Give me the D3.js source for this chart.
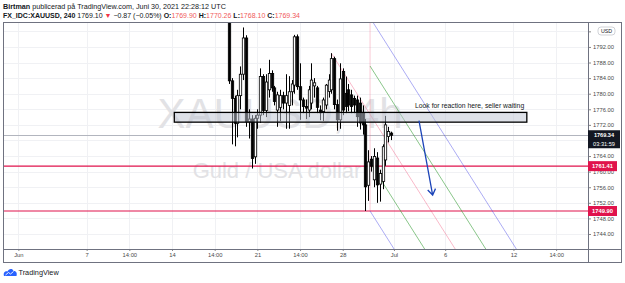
<!DOCTYPE html>
<html>
<head>
<meta charset="utf-8">
<script src="https://cdn.jsdelivr.net/npm/d3@7"></script>
<style>
  body { margin: 0; background: #fff; }
  svg { display: block; font-family: "Liberation Sans", Arial, sans-serif; }
</style>
</head>
<body>
<svg id="chart" width="625" height="283"></svg>
<script>
// 4h candles, FX_IDC:XAUUSD, Jun 17 - Jun 30 2021 (bar index 0..57)
const opens  = [1806, 1783.3, 1778.8, 1772.4, 1779.5, 1785, 1794.3, 1772.8, 1773.5, 1763.8,
                1773.7, 1774.5, 1784.4, 1775.7, 1781, 1785.2, 1781.5, 1775.8, 1776.5, 1779.5,
                1777.6, 1777, 1780.5, 1782.2, 1794.6, 1781.8, 1778.4, 1776.7, 1775.8, 1777.6,
                1782, 1781.5, 1775.8, 1775.4, 1777.1, 1780.6, 1781, 1789, 1777.2, 1773.3,
                1785.7, 1780.1, 1781, 1779.7, 1778.8, 1778.4, 1777.6, 1775, 1772, 1756.5,
                1763.2, 1757.9, 1763.5, 1756.8, 1757.5, 1763, 1769, 1769.9];
const highs  = [1810, 1784, 1779.5, 1781, 1787, 1797, 1795, 1776, 1774.5, 1774.5,
                1776, 1786.5, 1785, 1785, 1788.7, 1786, 1782, 1780.5, 1781, 1780.5,
                1785, 1784.5, 1783.5, 1795.1, 1795.2, 1787.8, 1779, 1778.5, 1782, 1787.8,
                1784, 1782, 1777, 1779, 1782.5, 1785, 1790.4, 1789.5, 1778.5, 1787.8,
                1786.5, 1784.4, 1782.5, 1781, 1779.5, 1779.5, 1779, 1777, 1773.5, 1765.5,
                1764, 1766, 1765, 1760.5, 1767, 1774.3, 1771.5, 1770.26];
const lows   = [1782.5, 1767, 1766.5, 1768.8, 1776, 1783.5, 1771.5, 1768.5, 1760.8, 1762,
                1771, 1772.5, 1774.5, 1774, 1779, 1780.5, 1777, 1771.5, 1773, 1776,
                1771, 1771, 1777, 1780, 1781, 1773.3, 1775, 1773.5, 1774, 1776,
                1779, 1775, 1773.2, 1773, 1776, 1779, 1780, 1776, 1770.5, 1771,
                1774.5, 1775, 1775.5, 1775, 1775, 1771.5, 1770.8, 1769.5, 1749.9, 1752.5,
                1760, 1756, 1752, 1752.3, 1755.5, 1761.5, 1767.5, 1768.1];
const closes = [1783.3, 1778.8, 1772.4, 1779.5, 1785, 1794.3, 1772.8, 1773.5, 1763.4, 1773.7,
                1774.5, 1784.4, 1775.7, 1783, 1785.2, 1781.5, 1778, 1779.7, 1779.5, 1777.6,
                1779.5, 1780.5, 1782.5, 1794.6, 1781.8, 1778.4, 1776.7, 1776.3, 1781, 1783.5,
                1782.8, 1776.5, 1775.1, 1778.4, 1782.2, 1783.5, 1789, 1777.2, 1773.3, 1783.8,
                1775.8, 1776.7, 1777.1, 1776.7, 1777.1, 1774.1, 1772.5, 1772, 1756.1, 1762.5,
                1761.4, 1763.9, 1756.6, 1759.5, 1766.4, 1772, 1770.3, 1769.34];

const priceTicks = [1744, 1748, 1752, 1756, 1760, 1764, 1768, 1772, 1776, 1780, 1784, 1788, 1792, 1796];
// time ticks, in 4h bar units relative to the first candle
const timeTicks  = [-74, -50, -35, -20, -5, 10, 25, 40, 58, 76, 100, 115];
const timeLabels = ["Jun", "7", "14:00", "14", "14:00", "21", "14:00", "28", "Jul", "6", "12", "14:00"];

const levels = [1761.41, 1749.90];
const lastPrice = 1769.34;
const countdown = "03:31:59";

// drawings (bar index, price)
const zone = { from: -19.2, to: 104.7, top: 1775.2, bottom: 1772.7 };
const note = { at: 65.4, price: 1776.3, text: "Look for reaction here, seller waiting" };
const arrow = { from: [66.8, 1773.1], to: [71.6, 1754.0] };
const fork = { a: [36, 1790.4], b: [49.6, 1799.5], c: [49.6, 1749.9] };

const svg = d3.select("#chart");
const plot = { left: 3, top: 22, right: 588, bottom: 249 };

const x = d3.scaleLinear().domain([-79.4, 126.2]).range([plot.left, plot.right]);
const y = d3.scaleLinear().domain([1740.15, 1798.4]).range([plot.bottom, plot.top]);

svg.append("clipPath").attr("id", "clip")
    .append("rect")
    .attr("x", plot.left).attr("y", plot.top)
    .attr("width", plot.right - plot.left).attr("height", plot.bottom - plot.top);

// grid
const grid = svg.append("g").attr("shape-rendering", "crispEdges");
grid.selectAll(".hg")
    .data(priceTicks)
    .enter().append("line")
    .attr("x1", plot.left).attr("x2", plot.right)
    .attr("y1", d => Math.round(y(d)) + 0.5).attr("y2", d => Math.round(y(d)) + 0.5)
    .attr("stroke", "#f0f1f4");
grid.selectAll(".vg")
    .data(timeTicks)
    .enter().append("line")
    .attr("x1", d => Math.round(x(d)) + 0.5).attr("x2", d => Math.round(x(d)) + 0.5)
    .attr("y1", plot.top).attr("y2", plot.bottom)
    .attr("stroke", "#f0f1f4");

// watermark
svg.append("text")
    .attr("x", 280).attr("y", 128)
    .attr("text-anchor", "middle")
    .attr("font-size", 42)
    .attr("fill", "#e2e2e5")
    .text("XAUUSD, 4h");
svg.append("text")
    .attr("x", 277).attr("y", 178)
    .attr("text-anchor", "middle")
    .attr("font-size", 22)
    .attr("fill", "#e2e2e5")
    .text("Guld / USA dollar");

const g = svg.append("g").attr("clip-path", "url(#clip)");

// last price line
g.append("line")
    .attr("x1", plot.left).attr("x2", plot.right)
    .attr("y1", Math.round(y(lastPrice)) + 0.5).attr("y2", Math.round(y(lastPrice)) + 0.5)
    .attr("stroke", "#b2b5be");

// horizontal levels
g.selectAll(".level")
    .data(levels)
    .enter().append("line")
    .attr("x1", plot.left).attr("x2", plot.right)
    .attr("y1", d => y(d)).attr("y2", d => y(d))
    .attr("stroke", "#e0134c")
    .attr("stroke-width", 1.2);

// pitchfork
const pa = [x(fork.a[0]), y(fork.a[1])];
const pb = [x(fork.b[0]), y(fork.b[1])];
const pc = [x(fork.c[0]), y(fork.c[1])];
const pm = [(pb[0] + pc[0]) / 2, (pb[1] + pc[1]) / 2];
const dir = [pm[0] - pa[0], pm[1] - pa[1]];
const far = 20;
const forkLines = [
    { k: 1, color: "rgba(70,70,230,0.45)" },
    { k: 0.5, color: "rgba(60,160,60,0.6)" },
    { k: 0, color: "rgba(240,80,120,0.4)" },
    { k: -0.5, color: "rgba(60,160,60,0.6)" },
    { k: -1, color: "rgba(70,70,230,0.45)" }
];
g.append("line")
    .attr("x1", pb[0]).attr("y1", pb[1]).attr("x2", pc[0]).attr("y2", pc[1])
    .attr("stroke", "rgba(240,80,120,0.3)");
g.append("line")
    .attr("x1", pa[0]).attr("y1", pa[1]).attr("x2", pm[0]).attr("y2", pm[1])
    .attr("stroke", "rgba(240,80,120,0.4)");
g.selectAll(".fork")
    .data(forkLines)
    .enter().append("line")
    .attr("x1", d => pm[0] + d.k * (pb[0] - pm[0]))
    .attr("y1", d => pm[1] + d.k * (pb[1] - pm[1]))
    .attr("x2", d => pm[0] + d.k * (pb[0] - pm[0]) + dir[0] * far)
    .attr("y2", d => pm[1] + d.k * (pb[1] - pm[1]) + dir[1] * far)
    .attr("stroke", d => d.color);

// candles
const bw = 2.4;
const candles = g.selectAll(".candle")
    .data(opens.map((o, i) => ({ i, o, h: highs[i], l: lows[i], c: closes[i] })))
    .enter().append("g");
candles.append("line")
    .attr("x1", d => Math.round(x(d.i)) + 0.5).attr("x2", d => Math.round(x(d.i)) + 0.5)
    .attr("y1", d => y(d.h)).attr("y2", d => y(d.l))
    .attr("stroke", "#000");
candles.append("rect")
    .attr("x", d => Math.round(x(d.i)) + 0.5 - bw / 2)
    .attr("y", d => y(Math.max(d.o, d.c)))
    .attr("width", bw)
    .attr("height", d => Math.max(0.8, Math.abs(y(d.o) - y(d.c))))
    .attr("fill", d => d.c >= d.o ? "#fff" : "#000")
    .attr("stroke", "#000")
    .attr("stroke-width", 0.8);

// zone rectangle + note
g.append("rect")
    .attr("x", x(zone.from)).attr("y", y(zone.top))
    .attr("width", x(zone.to) - x(zone.from))
    .attr("height", y(zone.bottom) - y(zone.top))
    .attr("fill", "rgba(190,196,210,0.5)")
    .attr("stroke", "#000")
    .attr("stroke-width", 1.3);
g.append("text")
    .attr("x", x(note.at)).attr("y", y(note.price))
    .attr("font-size", 6.8)
    .attr("fill", "#131722")
    .text(note.text);

// arrow
const a0 = [x(arrow.from[0]), y(arrow.from[1])];
const a1 = [x(arrow.to[0]), y(arrow.to[1])];
const ang = Math.atan2(a1[1] - a0[1], a1[0] - a0[0]);
const head = 7, spread = 0.6;
g.append("path")
    .attr("d", `M${a0[0]},${a0[1]}L${a1[0]},${a1[1]}` +
        `M${a1[0] - head * Math.cos(ang - spread)},${a1[1] - head * Math.sin(ang - spread)}L${a1[0]},${a1[1]}` +
        `L${a1[0] - head * Math.cos(ang + spread)},${a1[1] - head * Math.sin(ang + spread)}`)
    .attr("fill", "none")
    .attr("stroke", "#1c44b8")
    .attr("stroke-width", 1.3);

// axes (1796 sits under the USD badge and 1768 under the last-price box, so no label)
const hidden = [1796, 1768];
const yAxis = svg.append("g")
    .attr("transform", `translate(${plot.right},0)`)
    .call(d3.axisRight(y).tickValues(priceTicks).tickSize(3).tickPadding(2)
        .tickFormat(d => hidden.includes(d) ? "" : d3.format(".2f")(d)));
const xAxis = svg.append("g")
    .attr("transform", `translate(0,${plot.bottom})`)
    .call(d3.axisBottom(x).tickValues(timeTicks).tickSize(2).tickPadding(1.5).tickFormat((d, i) => timeLabels[i]));
[yAxis, xAxis].forEach(ax => {
    ax.select(".domain").remove();
    ax.selectAll("text").attr("font-size", 5.8).attr("fill", "#4a4a4a").attr("font-family", "Liberation Sans, Arial, sans-serif");
    ax.selectAll("line").attr("stroke", "#888");
});

// frame
const frame = svg.append("g").attr("fill", "none").attr("stroke", "#6f7280").attr("shape-rendering", "crispEdges");
frame.append("rect").attr("x", 3.5).attr("y", 22.5).attr("width", 618).attr("height", 240);
frame.append("line").attr("x1", plot.right + 0.5).attr("x2", plot.right + 0.5).attr("y1", 22).attr("y2", 263);
frame.append("line").attr("x1", 3).attr("x2", 622).attr("y1", plot.bottom + 0.5).attr("y2", plot.bottom + 0.5);

// USD badge
svg.append("rect").attr("x", 598).attr("y", 27).attr("width", 17).attr("height", 8).attr("rx", 3)
    .attr("fill", "#fff").attr("stroke", "#b2b5be").attr("stroke-width", 0.6);
svg.append("text").attr("x", 606.5).attr("y", 33.2).attr("text-anchor", "middle")
    .attr("font-size", 5.3).attr("fill", "#131722").text("USD");

// price labels on axis
const lp = y(lastPrice);
svg.append("rect").attr("x", plot.right).attr("y", lp - 5).attr("width", 32).attr("height", 18).attr("fill", "#131722");
svg.append("text").attr("x", 604).attr("y", lp + 2.2).attr("text-anchor", "middle")
    .attr("font-size", 5.6).attr("font-weight", "bold").attr("fill", "#fff").text(d3.format(".2f")(lastPrice));
svg.append("text").attr("x", 604).attr("y", lp + 10.4).attr("text-anchor", "middle")
    .attr("font-size", 5.6).attr("fill", "#fff").text(countdown);

levels.forEach(v => {
    svg.append("rect").attr("x", plot.right).attr("y", y(v) - 5).attr("width", 29).attr("height", 10).attr("fill", "#e0134c");
    svg.append("text").attr("x", 602.5).attr("y", y(v) + 2.2).attr("text-anchor", "middle")
        .attr("font-size", 5.8).attr("font-weight", "bold").attr("fill", "#fff").text(d3.format(".2f")(v));
});

// header
const h1 = svg.append("text").attr("x", 3).attr("y", 9).attr("font-size", 7.2).attr("fill", "#131722");
h1.append("tspan").attr("font-weight", "bold").text("Birtman");
h1.append("tspan").text(" publicerad på TradingView.com, Juni 30, 2021 22:28:12 UTC");

const h2 = svg.append("text").attr("x", 3).attr("y", 18).attr("font-size", 7).attr("fill", "#131722");
h2.append("tspan").attr("font-weight", "bold").text("FX_IDC:XAUUSD, 240");
h2.append("tspan").text("  1769.10 ");
h2.append("tspan").attr("fill", "#f23645").text("▼");
h2.append("tspan").text(" −0.87 (−0.05%) ");
[["O:", "1769.90"], ["H:", "1770.26"], ["L:", "1768.10"], ["C:", "1769.34"]].forEach(([k, v], i) => {
    h2.append("tspan").attr("font-weight", "bold").text((i ? " " : "") + k);
    h2.append("tspan").attr("fill", "#f05a5a").text(v);
});

// TradingView logo
svg.append("path")
    .attr("d", "M4,276 C3,273 5,270.5 7.5,271.5 C8.5,268.5 12.5,268 13.5,271 C16,270.5 17.5,273 16.5,276 Z")
    .attr("fill", "#2962ff");
svg.append("path")
    .attr("d", "M5.5,275 L8.5,272.5 L10.5,274 L13.5,271.5")
    .attr("fill", "none").attr("stroke", "#fff").attr("stroke-width", 0.9);
svg.append("text").attr("x", 18.5).attr("y", 275).attr("font-size", 7.3).attr("fill", "#131722").text("TradingView");
</script>
</body>
</html>
